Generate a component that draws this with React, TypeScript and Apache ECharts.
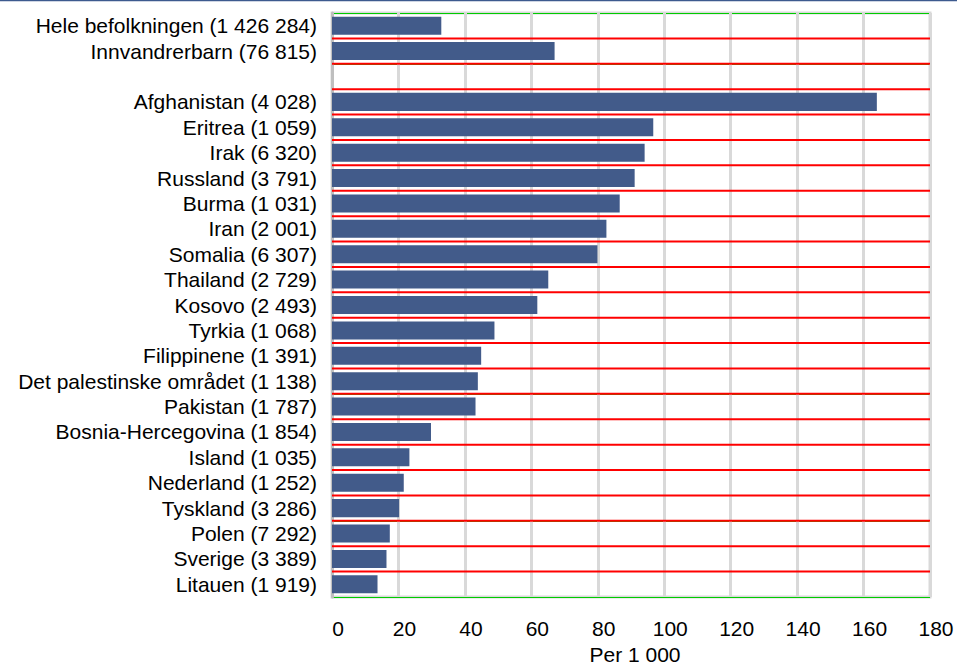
import React, { useEffect, useRef } from "react";
import * as echarts from "echarts";

const categories = [
  "Hele befolkningen (1 426 284)",
  "Innvandrerbarn (76 815)",
  "",
  "Afghanistan (4 028)",
  "Eritrea (1 059)",
  "Irak (6 320)",
  "Russland (3 791)",
  "Burma (1 031)",
  "Iran (2 001)",
  "Somalia (6 307)",
  "Thailand (2 729)",
  "Kosovo (2 493)",
  "Tyrkia (1 068)",
  "Filippinene (1 391)",
  "Det palestinske området (1 138)",
  "Pakistan (1 787)",
  "Bosnia-Hercegovina (1 854)",
  "Island (1 035)",
  "Nederland (1 252)",
  "Tyskland (3 286)",
  "Polen (7 292)",
  "Sverige (3 389)",
  "Litauen (1 919)",
];

const values: (number | null)[] = [
  32.9, 67.0, null, 164.0, 96.7, 94.1, 91.1, 86.6, 82.6, 79.9, 65.1, 61.8,
  48.9, 44.9, 43.9, 43.2, 29.8, 23.3, 21.6, 20.2, 17.4, 16.4, 13.7,
];

const xMin = 0;
const xMax = 180;
const xInterval = 20;
const xName = "Per 1 000";

export default function App() {
  const ref = useRef<HTMLDivElement>(null);
  useEffect(() => {
    if (!ref.current) return;
    const chart = echarts.init(ref.current, null, { renderer: "svg" });
    const font = "Liberation Sans, Arial, sans-serif";
    const sepIdx = categories.slice(0, -1).map((_, i) => [xMin, i]);
    chart.setOption({
      animation: false,
      backgroundColor: "#ffffff",
      textStyle: { fontFamily: font },
      graphic: [
        {
          type: "line",
          shape: { x1: 0, y1: 0.5, x2: 957, y2: 0.5 },
          style: { stroke: "#3d5a8e", lineWidth: 1.5 },
        },
      ],
      grid: {
        left: 332,
        right: 27,
        top: 13,
        bottom: 66,
        containLabel: false,
        outerBoundsMode: "none",
        show: true,
        borderColor: "#d9d9d9",
        borderWidth: 3,
      },
      xAxis: {
        type: "value",
        min: xMin,
        max: xMax,
        interval: xInterval,
        name: xName,
        nameLocation: "middle",
        nameGap: 46,
        nameTextStyle: { color: "#000", fontSize: 21, fontFamily: font, padding: [0, 0, 0, 8] },
        axisLine: { show: false },
        axisTick: { show: false },
        axisLabel: { color: "#000", fontSize: 21, fontFamily: font, margin: 21, padding: [0, 0, 0, 12] },
        splitLine: { show: true, lineStyle: { color: "#d9d9d9", width: 3 } },
      },
      yAxis: {
        type: "category",
        data: categories,
        inverse: true,
        axisLine: { show: true, lineStyle: { color: "#bfbfbf", width: 3 } },
        axisTick: { show: false },
        axisLabel: { color: "#000", fontSize: 21, fontFamily: font, margin: 15, interval: 0 },
        splitLine: { show: true, interval: 0, lineStyle: { color: "#00cc00", width: 1 } },
      },
      series: [
        {
          type: "custom",
          z: 4,
          silent: true,
          encode: { x: 0, y: 1 },
          data: sepIdx,
          renderItem: (params: any, api: any) => {
            const idx = api.value(1);
            const p1 = api.coord([xMin, idx]);
            const p2 = api.coord([xMax, idx]);
            const h = api.size([0, 1])[1];
            const y = p1[1] + h / 2;
            return {
              type: "line",
              shape: { x1: p1[0], y1: y, x2: p2[0], y2: y },
              style: { stroke: "#ff0000", lineWidth: 2 },
            };
          },
        },
        {
          type: "bar",
          data: values,
          barCategoryGap: "29%",
          z: 3,
          itemStyle: { color: "#425b8a" },
        },
      ],
    });
    return () => chart.dispose();
  }, []);
  return <div ref={ref} style={{ position: "fixed", left: 0, top: 0, width: 957, height: 663 }} />;
}
